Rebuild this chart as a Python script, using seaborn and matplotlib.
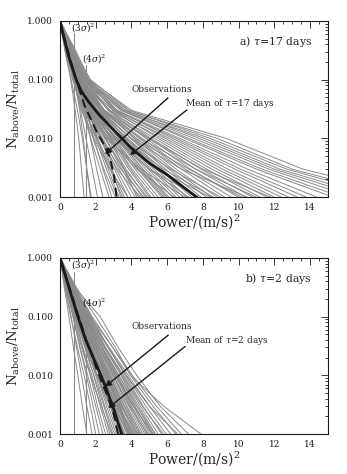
import numpy as np
import pandas as pd
import matplotlib
matplotlib.use("Agg")
import matplotlib.pyplot as plt
import seaborn as sns
from matplotlib.ticker import MultipleLocator, FixedLocator, FixedFormatter, LogLocator, NullFormatter

# ---------------- data ----------------
levels = [1.0, 0.3, 0.1, 0.03, 0.01, 0.003, 0.001]

# panel a (tau = 17 d): power at which each simulated curve falls to each level
a_p_0p3 = [0.30, 0.45, 0.28, 0.40, 0.55, 0.35, 0.50, 0.38, 0.62, 0.42,
           0.33, 0.58, 0.47, 0.36, 0.66, 0.44, 0.52, 0.39, 0.70, 0.48,
           0.41, 0.60, 0.54, 0.37, 0.64, 0.46, 0.57, 0.43, 0.68, 0.51,
           0.40, 0.63, 0.49, 0.72, 0.45, 0.59, 0.53, 0.75, 0.42, 0.65,
           0.56, 0.80, 0.50, 0.69, 0.47, 0.74, 0.61, 0.55, 0.82, 0.58,
           0.67, 0.77, 0.62, 0.85, 0.71, 0.90,
           0.35, 0.60, 0.45, 0.70, 0.40, 0.55, 0.50, 0.65, 0.45, 0.50,
           0.60, 0.42, 0.58, 0.38, 0.66, 0.52, 0.48, 0.62, 0.44, 0.56]
a_p_0p1 = [0.60, 0.80, 0.62, 0.78, 1.00, 0.75, 0.95, 0.82, 1.15, 0.88,
           0.78, 1.10, 0.98, 0.84, 1.25, 0.95, 1.05, 0.90, 1.30, 1.02,
           0.92, 1.18, 1.12, 0.88, 1.28, 1.00, 1.20, 0.97, 1.35, 1.10,
           0.96, 1.30, 1.08, 1.42, 1.05, 1.25, 1.15, 1.48, 1.02, 1.35,
           1.22, 1.55, 1.12, 1.45, 1.10, 1.52, 1.30, 1.25, 1.60, 1.32,
           1.45, 1.58, 1.38, 1.70, 1.50, 1.65,
           0.70, 1.20, 0.85, 1.40, 0.90, 1.00, 1.10, 1.30, 0.95, 0.90,
           1.15, 0.88, 1.12, 0.76, 1.28, 1.02, 0.96, 1.22, 0.86, 1.08]
a_p_0p03 = [0.85, 1.10, 0.98, 1.15, 1.40, 1.25, 1.45, 1.30, 1.60, 1.42,
            1.35, 1.62, 1.55, 1.50, 1.78, 1.60, 1.70, 1.68, 1.90, 1.75,
            1.72, 1.95, 1.88, 1.80, 2.05, 1.92, 2.05, 1.98, 2.25, 2.10,
            2.05, 2.30, 2.20, 2.45, 2.30, 2.50, 2.45, 2.70, 2.50, 2.75,
            2.70, 2.95, 2.80, 3.05, 2.95, 3.20, 3.10, 3.20, 3.45, 3.40,
            3.50, 3.65, 3.60, 3.85, 3.80, 4.00,
            1.30, 1.70, 1.60, 2.00, 1.80, 1.50, 2.10, 2.20, 1.75, 1.40,
            2.40, 1.55, 1.90, 1.20, 2.40, 1.70, 1.65, 2.30, 1.45, 1.85]
a_p_0p01 = [1.05, 1.30, 1.25, 1.45, 1.70, 1.72, 1.90, 1.85, 2.10, 2.05,
            2.10, 2.30, 2.35, 2.40, 2.55, 2.55, 2.65, 2.75, 2.85, 2.85,
            2.95, 3.05, 3.15, 3.20, 3.30, 3.35, 3.45, 3.50, 3.65, 3.70,
            3.80, 3.95, 4.00, 4.15, 4.30, 4.45, 4.60, 4.80, 5.00, 5.10,
            5.30, 5.50, 5.70, 5.90, 6.10, 6.30, 6.50, 6.70, 7.00, 7.20,
            7.50, 7.80, 8.10, 8.40, 8.80, 9.30,
            2.60, 2.30, 3.00, 2.80, 3.60, 2.20, 4.00, 3.30, 3.10, 2.00,
            4.90, 2.70, 3.40, 1.90, 4.20, 2.90, 2.50, 4.50, 2.30, 3.20]
a_p_0p003 = [1.20, 1.50, 1.50, 1.80, 2.05, 2.25, 2.40, 2.45, 2.70, 2.80,
             2.90, 3.05, 3.15, 3.30, 3.45, 3.55, 3.70, 3.85, 3.95, 4.05,
             4.20, 4.35, 4.50, 4.65, 4.80, 4.95, 5.10, 5.25, 5.40, 5.55,
             5.70, 5.90, 6.10, 6.30, 6.50, 6.80, 7.00, 7.30, 7.60, 7.90,
             8.20, 8.50, 8.80, 9.10, 9.40, 9.80, 10.10, 10.50, 11.00, 11.30,
             11.70, 12.00, 12.30, 12.70, 13.00, 13.60,
             4.50, 2.90, 5.00, 3.60, 6.20, 3.20, 6.80, 4.60, 5.40, 2.60,
             8.00, 4.30, 5.80, 2.80, 7.20, 4.40, 3.60, 7.60, 3.40, 5.00]
a_p_0p001 = [1.35, 1.70, 1.75, 2.10, 2.40, 2.75, 2.90, 3.10, 3.30, 3.50,
             3.60, 3.80, 4.00, 4.20, 4.40, 4.60, 4.80, 5.00, 5.10, 5.30,
             5.50, 5.70, 5.90, 6.10, 6.30, 6.50, 6.70, 6.90, 7.10, 7.40,
             7.60, 7.90, 8.20, 8.50, 8.80, 9.20, 9.60, 10.00, 10.40, 10.80,
             11.20, 11.60, 12.00, 12.40, 12.80, 13.30, 13.80, 14.40, 15.30, 15.80,
             16.40, 17.00, 17.60, 18.30, 19.00, 20.00,
             7.00, 3.40, 7.80, 4.30, 9.00, 4.50, 10.50, 6.00, 8.40, 3.20,
             11.80, 6.40, 8.60, 3.80, 10.20, 5.80, 4.90, 11.00, 4.70, 7.20]

a_mean_power = [0.0, 0.2, 0.5, 0.9, 1.2, 1.6, 2.2, 3.0, 4.0, 5.0, 6.0, 7.65]
a_mean_frac = [1.0, 0.54, 0.24, 0.10, 0.063, 0.042, 0.025, 0.014, 0.0068, 0.0038, 0.0024, 0.001]
a_obs_power = [0.0, 0.3, 0.7, 1.0, 1.36, 2.05, 2.5, 2.8, 3.0, 3.17]
a_obs_frac = [1.0, 0.45, 0.16, 0.08, 0.037, 0.013, 0.0075, 0.0046, 0.0025, 0.001]

# panel b (tau = 2 d)
b_p_0p3 = [0.25, 0.32, 0.28, 0.40, 0.35, 0.45, 0.38, 0.50, 0.42, 0.48,
           0.55, 0.44, 0.60, 0.52, 0.47, 0.62, 0.56, 0.50, 0.66, 0.58,
           0.53, 0.70, 0.61, 0.57, 0.74, 0.65, 0.60, 0.78, 0.68, 0.63,
           0.82, 0.72, 0.66, 0.85, 0.76, 0.70, 0.90, 0.80, 0.95, 0.88,
           0.35, 0.55, 0.45, 0.60, 0.50, 0.70, 0.40, 0.65, 0.55, 0.75,
           0.48, 0.62, 0.52, 0.80, 0.58, 0.68, 0.42, 0.72, 0.85, 0.60]
b_p_0p1 = [0.50, 0.62, 0.60, 0.75, 0.72, 0.85, 0.80, 0.95, 0.88, 0.98,
           1.08, 0.95, 1.15, 1.05, 1.00, 1.22, 1.12, 1.08, 1.30, 1.18,
           1.15, 1.38, 1.28, 1.22, 1.45, 1.35, 1.30, 1.52, 1.42, 1.38,
           1.60, 1.50, 1.45, 1.68, 1.58, 1.55, 1.80, 1.70, 2.00, 2.25,
           0.75, 1.15, 0.95, 1.25, 1.05, 1.40, 0.85, 1.35, 1.10, 1.55,
           1.00, 1.28, 1.08, 1.65, 1.20, 1.40, 0.90, 1.48, 1.75, 1.22]
b_p_0p03 = [0.75, 0.92, 0.98, 1.10, 1.12, 1.25, 1.28, 1.40, 1.38, 1.48,
            1.58, 1.50, 1.68, 1.62, 1.62, 1.80, 1.75, 1.78, 1.92, 1.88,
            1.90, 2.05, 2.00, 2.02, 2.18, 2.15, 2.18, 2.32, 2.30, 2.35,
            2.50, 2.48, 2.50, 2.70, 2.68, 2.75, 2.95, 2.95, 3.10, 3.25,
            1.20, 1.75, 1.55, 1.90, 1.65, 2.05, 1.40, 2.10, 1.70, 2.40,
            1.60, 1.98, 1.72, 2.55, 1.85, 2.20, 1.45, 2.28, 2.70, 1.92]
b_p_0p01 = [1.00, 1.20, 1.35, 1.48, 1.55, 1.70, 1.78, 1.88, 1.90, 2.00,
            2.08, 2.08, 2.22, 2.22, 2.28, 2.40, 2.42, 2.48, 2.60, 2.62,
            2.68, 2.80, 2.82, 2.88, 3.00, 3.02, 3.10, 3.20, 3.22, 3.30,
            3.42, 3.45, 3.52, 3.65, 3.72, 3.82, 3.95, 4.05, 3.95, 4.30,
            1.70, 2.35, 2.25, 2.55, 2.35, 2.70, 2.05, 2.95, 2.40, 3.30,
            2.30, 2.75, 2.50, 3.55, 2.55, 3.10, 2.10, 3.15, 3.70, 2.68]
b_p_0p003 = [1.25, 1.50, 1.70, 1.85, 2.00, 2.10, 2.25, 2.35, 2.45, 2.50,
             2.60, 2.70, 2.80, 2.85, 2.95, 3.00, 3.10, 3.20, 3.30, 3.35,
             3.45, 3.50, 3.60, 3.70, 3.75, 3.85, 3.95, 4.00, 4.10, 4.20,
             4.30, 4.40, 4.50, 4.65, 4.80, 5.00, 5.20, 5.40, 5.80, 5.60,
             2.30, 3.00, 3.00, 3.25, 3.20, 3.35, 2.80, 3.90, 3.15, 4.30,
             3.05, 3.60, 3.40, 4.60, 3.30, 4.10, 2.85, 4.15, 5.00, 3.50]
b_p_0p001 = [1.50, 1.80, 2.00, 2.20, 2.40, 2.55, 2.70, 2.80, 2.95, 3.05,
             3.15, 3.25, 3.35, 3.45, 3.55, 3.65, 3.75, 3.85, 3.95, 4.05,
             4.15, 4.25, 4.35, 4.45, 4.55, 4.65, 4.75, 4.85, 4.95, 5.05,
             5.20, 5.35, 5.50, 5.70, 5.95, 6.20, 6.50, 6.80, 7.90, 7.20,
             2.90, 3.60, 3.80, 3.90, 4.20, 4.00, 3.60, 4.90, 3.95, 5.30,
             3.85, 4.50, 4.40, 5.80, 4.10, 5.20, 3.55, 5.15, 6.60, 4.30]

b_mean_power = [0.0, 0.3, 0.6, 1.0, 1.44, 2.0, 2.5, 2.7, 3.0, 3.45]
b_mean_frac = [1.0, 0.5, 0.25, 0.1, 0.04, 0.016, 0.007, 0.0048, 0.0027, 0.001]
b_obs_power = [0.0, 0.5, 1.0, 1.5, 2.0, 2.4, 2.7, 3.0, 3.25]
b_obs_frac = [1.0, 0.33, 0.11, 0.038, 0.014, 0.0068, 0.0042, 0.0022, 0.001]

sigma_sq = [0.81, 1.44]
xticks = [0, 2, 4, 6, 8, 10, 12, 14]
yticks = [0.001, 0.01, 0.1, 1.0]
ytick_labels = ["0.001", "0.010", "0.100", "1.000"]

# ---------------- style ----------------
sns.set_theme(style="white")
plt.rcParams["font.family"] = ["DejaVu Serif"]
plt.rcParams["mathtext.fontset"] = "dejavuserif"

GREY = "#8a8a8a"


def sim_frame(cols):
    rows = []
    n = len(cols[0])
    for i in range(n):
        rows.append({"curve": i, "power": 0.0, "frac": levels[0]})
        for k, col in enumerate(cols):
            rows.append({"curve": i, "power": col[i], "frac": levels[k + 1]})
    return pd.DataFrame(rows)


def draw_panel(ax, cols, mean_p, mean_f, obs_p, obs_f, tag, sig_tops, sig_lab_y,
               obs_txt, obs_tail, obs_head, mean_txt, mean_tail, mean_head, mean_label):
    df = sim_frame(cols)
    sns.lineplot(data=df, x="power", y="frac", units="curve", estimator=None,
                 sort=False, color=GREY, lw=0.7, ax=ax, legend=False)
    for s, top, ly, lab in zip(sigma_sq, sig_tops, sig_lab_y,
                               [r"(3$\sigma$)$^2$", r"(4$\sigma$)$^2$"]):
        ax.plot([s, s], [0.001, top], color=GREY, lw=0.8)
        ax.text(s - 0.22, ly, lab, fontsize=6.5, ha="left", va="center", color="k")
    md = pd.DataFrame({"power": mean_p, "frac": mean_f})
    sns.lineplot(data=md, x="power", y="frac", sort=False, color="k", lw=2.0, ax=ax,
                 solid_joinstyle="round")
    od = pd.DataFrame({"power": obs_p, "frac": obs_f})
    sns.lineplot(data=od, x="power", y="frac", sort=False, color="k", lw=1.4,
                 ax=ax, linestyle=(0, (4.5, 2.5)))

    ax.set_yscale("log")
    ax.set_xlim(0, 15)
    ax.set_ylim(0.001, 1.0)
    ax.xaxis.set_major_locator(FixedLocator(xticks))
    ax.xaxis.set_minor_locator(MultipleLocator(0.5))
    ax.yaxis.set_major_locator(FixedLocator(yticks))
    ax.yaxis.set_major_formatter(FixedFormatter(ytick_labels))
    ax.yaxis.set_minor_locator(LogLocator(base=10, subs=np.arange(2, 10)))
    ax.yaxis.set_minor_formatter(NullFormatter())
    ax.tick_params(which="both", direction="in", top=True, right=True,
                   colors="k", labelsize=6.5, width=0.6)
    ax.tick_params(which="major", length=5)
    ax.tick_params(which="minor", length=2.5)
    ax.tick_params(axis="x", which="major", pad=4.5)
    ax.tick_params(axis="y", which="major", pad=5)
    for sp in ax.spines.values():
        sp.set_color("k")
        sp.set_linewidth(0.8)
    ax.set_xlabel(r"Power/(m/s)$^2$", fontsize=10, labelpad=0)
    ax.set_ylabel(r"N$_{\rm above}$/N$_{\rm total}$", fontsize=9.6)
    ax.yaxis.set_label_coords(-0.142, 0.5)

    ax.text(14.1, tag[1], tag[0], fontsize=7.8, ha="right", va="center")
    ax.text(obs_txt[0], obs_txt[1], "Observations", fontsize=6.5, ha="center", va="center")
    ax.text(mean_txt[0], mean_txt[1], mean_label, fontsize=6.5, ha="left", va="center")
    ap = dict(arrowstyle="-|>", color="k", lw=1.0, mutation_scale=9,
              shrinkA=0, shrinkB=0)
    ax.annotate("", xy=obs_head, xytext=obs_tail, arrowprops=ap)
    ax.annotate("", xy=mean_head, xytext=mean_tail, arrowprops=ap)


fig = plt.figure(figsize=(3.47, 4.74), dpi=100)
ax1 = fig.add_axes([0.173, 0.584, 0.772, 0.372])
ax2 = fig.add_axes([0.173, 0.084, 0.772, 0.372])

draw_panel(ax1, [a_p_0p3, a_p_0p1, a_p_0p03, a_p_0p01, a_p_0p003, a_p_0p001],
           a_mean_power, a_mean_frac, a_obs_power, a_obs_frac,
           (r"a) $\tau$=17 days", 0.44), [0.62, 0.18], [0.75, 0.22],
           (5.7, 0.067), (6.04, 0.0488), (2.52, 0.0054),
           (7.0, 0.0385), (7.1, 0.0305), (3.92, 0.0052), r"Mean of $\tau$=17 days")

draw_panel(ax2, [b_p_0p3, b_p_0p1, b_p_0p03, b_p_0p01, b_p_0p003, b_p_0p001],
           b_mean_power, b_mean_frac, b_obs_power, b_obs_frac,
           (r"b) $\tau$=2 days", 0.45), [0.58, 0.13], [0.76, 0.17],
           (5.7, 0.0676), (6.06, 0.0485), (2.52, 0.0064),
           (7.0, 0.039), (7.0, 0.031), (2.70, 0.0028), r"Mean of $\tau$=2 days")

fig.savefig("out.png", dpi=100, facecolor="white")
